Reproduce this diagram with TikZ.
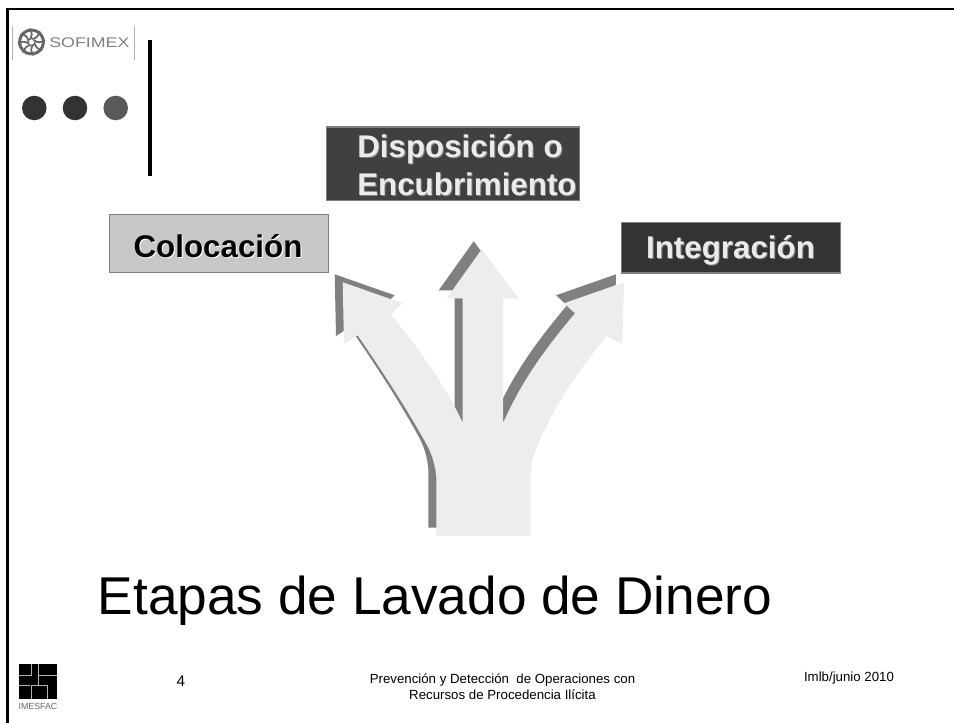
\documentclass[tikz,border=0pt]{standalone}
\usepackage{fontspec}
\setmainfont{Liberation Sans}
\usepackage{tikz}
\definecolor{arrowcolor}{HTML}{EDEDED}
\definecolor{shadecolor}{HTML}{808080}
\definecolor{darkbox}{HTML}{404040}
\definecolor{blackbox}{HTML}{333333}
\definecolor{greybox}{HTML}{C8C8C8}
\tikzset{
	box/.style={
		,rectangle
		,draw = none
		,inner sep = 0pt
		,align = center
		,font = \fontsize{23.5}{28.5}\selectfont\bfseries
	}
	,dot/.style = {circle, minimum size = 18.4pt, inner sep = 0pt}
	,foot/.style = {font = \fontsize{9.95}{12}\selectfont, align = center, inner sep = 0pt}
	,logoline/.style = {white!70!black, line width = .6pt}
	,px/.style = {x = 0.75pt, y = -0.75pt}
}
\newcommand{\forkpath}{
	(436.3,535.7) -- (436.3,476.7)
	.. controls (435,464) and (432,455) .. (428,447)
	.. controls (405,405) and (380,368) .. (357.7,335.3)
	-- (344,344) -- (342.7,282.3) -- (402.7,303.3) -- (390.7,314.3)
	.. controls (420,350) and (445,385) .. (462.7,422.7)
	-- (462.7,298.3) -- (446.7,298.3) -- (481.7,249.3) -- (518.7,298.3)
	-- (503,298.3) -- (503,423.3)
	.. controls (520,385) and (540,355) .. (575,313.3)
	-- (564,303.3) -- (624,282.3) -- (622.3,344) -- (606.7,336)
	.. controls (575,375) and (548,415) .. (533.3,456.7)
	.. controls (531.5,463) and (530.7,470) .. (530.7,476.7)
	-- (530.7,535.7) -- cycle
}
\begin{document}
\begin{tikzpicture}[px]
	\useasboundingbox (0,0) rectangle (954,723);

	% the frame
	\draw[line width = 1.7pt] (7.5,723) -- (7.5,9.3) -- (954,9.3);

	% the header
	\draw[gray!60, line width = .4pt] (12.5,26) -- (12.5,60);
	\draw[gray!60, line width = .4pt] (134,26) -- (134,60);
	\node[circle, draw = black!60, line width = 2.2pt, minimum size = 18pt, inner sep = 0pt] (swirl) at (31.5,42) {};
	\foreach \a in {0,45,...,315}{
		\draw[black!60, line width = 1.3pt] (swirl.center) ++(\a:3) arc[start angle = \a+180, end angle = \a+90, radius = 8];
	}
	\node[inner sep = 0pt, text = black!50, font = \fontsize{10.5}{12}\selectfont, anchor = west, transform shape, xscale = 1.27] (sofimex) at (49,43) {SOFIMEX};
	\node[dot, fill = black!80] (dot a) at (34.3,108) {};
	\node[dot, fill = black!80] (dot b) at (75,108) {};
	\node[dot, fill = black!65] (dot c) at (115.7,108) {};
	\draw[line width = 3pt] (150.3,40) -- (150.3,176);

	% the arrows
	\fill[shadecolor, shift = {(-8,-8)}] \forkpath;
	\fill[arrowcolor] \forkpath;

	% the boxes
	\fill[shadecolor] (325.5,126) rectangle (580,201.5);
	\fill[darkbox] (326.5,128) rectangle (579,200.5);
	\node[box, text = gray, align = left, anchor = west] (encubshade) at (358,166.5) {Disposición o\\Encubrimiento};
	\node[box, text = white!92!black, align = left, anchor = west] (encubtext) at (357,165.5) {Disposición o\\Encubrimiento};

	\fill[shadecolor] (109,214) rectangle (328.5,273.5);
	\fill[greybox] (109.5,215) rectangle (327.5,272.5);
	\node[box, text = white] (colocshade) at (219,247) {Colocación};
	\node[box] (coloctext) at (218,246) {Colocación};

	\fill[shadecolor] (621,222.3) rectangle (840.7,273.6);
	\fill[blackbox] (622,223.5) rectangle (839.5,272.5);
	\node[box, text = gray] (integshade) at (731.5,251.5) {Integración};
	\node[box, text = white!92!black] (integtext) at (730.5,250.5) {Integración};

	% the title
	\node[inner sep = 0pt, font = \fontsize{39.9}{45}\selectfont] (title) at (435,601) {Etapas de Lavado de Dinero};

	% the footer
	\fill (19,663.5) rectangle (57,699);
	\draw[logoline] (19,675) -- (31,675) -- (31,663.5);
	\draw[logoline] (38.3,663.5) -- (38.3,685);
	\draw[logoline] (38.3,675) -- (57,675);
	\draw[logoline] (19,685) -- (30,685);
	\draw[logoline] (31.7,699) -- (31.7,685) -- (47,685) -- (47,699);
	\node[inner sep = 0pt, text = black!60, font = \fontsize{6.6}{7}\selectfont] (imesfac) at (38,706) {IMESFAC};
	\node[foot, font = \fontsize{11.5}{13}\selectfont] (pagenum) at (181,681) {4};
	\node[foot] (center) at (502.5,687) {Prevención y Detección\ \ de Operaciones con\\Recursos de Procedencia Ilícita};
	\node[foot] (date) at (849,678) {Imlb/junio 2010};
\end{tikzpicture}
\end{document}
